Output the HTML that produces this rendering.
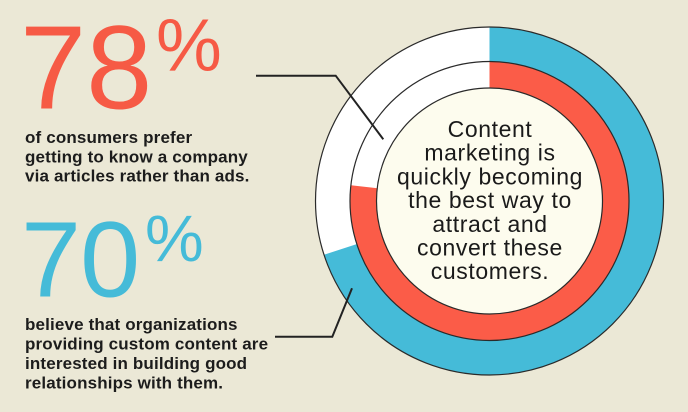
<!DOCTYPE html>
<html>
<head>
<meta charset="utf-8">
<style>
  html,body{margin:0;padding:0;background:#ebe8d6;}
  body{width:688px;height:412px;overflow:hidden;}
  svg{display:block;}
  .num{font-family:"Liberation Sans",Arial,sans-serif;}
  .body{font-family:"Liberation Sans",Arial,sans-serif;font-weight:bold;font-size:17px;fill:#1c1c1c;letter-spacing:0.15px;}
  .center{font-family:"Liberation Sans",Arial,sans-serif;font-size:23px;fill:#1a1a1a;letter-spacing:0.6px;}
</style>
</head>
<body>
<svg width="688" height="412" viewBox="0 0 688 412" xmlns="http://www.w3.org/2000/svg">
  <rect x="0" y="0" width="688" height="412" fill="#ebe8d6"/>

  <!-- Outer ring -->
  <circle cx="489.5" cy="201" r="174" fill="#ffffff"/>
  <path d="M489.5,201 L489.5,27 A174,174 0 1 1 324.02,254.77 Z" fill="#45bbd8"/>
  <circle cx="489.5" cy="201" r="174" fill="none" stroke="#2a2a2a" stroke-width="1.2"/>

  <!-- Inner ring -->
  <circle cx="489.5" cy="201" r="139.5" fill="#ffffff"/>
  <path d="M489.5,201 L489.5,61.5 A139.5,139.5 0 1 1 350.90,185.21 Z" fill="#fb5c48"/>
  <circle cx="489.5" cy="201" r="139.5" fill="none" stroke="#2a2a2a" stroke-width="1.2"/>

  <!-- Center -->
  <circle cx="489.5" cy="201" r="113" fill="#fdfcee" stroke="#2a2a2a" stroke-width="1.2"/>

  <!-- Connector lines -->
  <polyline points="256,75.7 335.7,75.7 383.3,139.3" fill="none" stroke="#222" stroke-width="2"/>
  <polyline points="275,336.7 332.3,336.7 352,288.3" fill="none" stroke="#222" stroke-width="2"/>

  <!-- Center text -->
  <g class="center" text-anchor="middle">
    <text x="490" y="137">Content</text>
    <text x="490" y="160.7">marketing is</text>
    <text x="490" y="184.4">quickly becoming</text>
    <text x="490" y="208.1">the best way to</text>
    <text x="490" y="231.8">attract and</text>
    <text x="490" y="255.5">convert these</text>
    <text x="490" y="279.2">customers.</text>
  </g>

  <!-- 78% -->
  <text class="num" x="20" y="108.5" font-size="119" fill="#f65a45">78</text>
  <text class="num" x="156" y="70.5" font-size="74" fill="#f65a45">%</text>

  <g class="body">
    <text x="25" y="143">of consumers prefer</text>
    <text x="25" y="162.3">getting to know a company</text>
    <text x="25" y="181.6">via articles rather than ads.</text>
  </g>

  <!-- 70% -->
  <text class="num" x="21" y="296.5" font-size="108" fill="#45bbd8" letter-spacing="-1">70</text>
  <text class="num" x="145" y="261" font-size="66" fill="#45bbd8">%</text>

  <g class="body">
    <text x="25" y="330">believe that organizations</text>
    <text x="25" y="349.5">providing custom content are</text>
    <text x="25" y="369">interested in building good</text>
    <text x="25" y="388.5">relationships with them.</text>
  </g>
</svg>
</body>
</html>
